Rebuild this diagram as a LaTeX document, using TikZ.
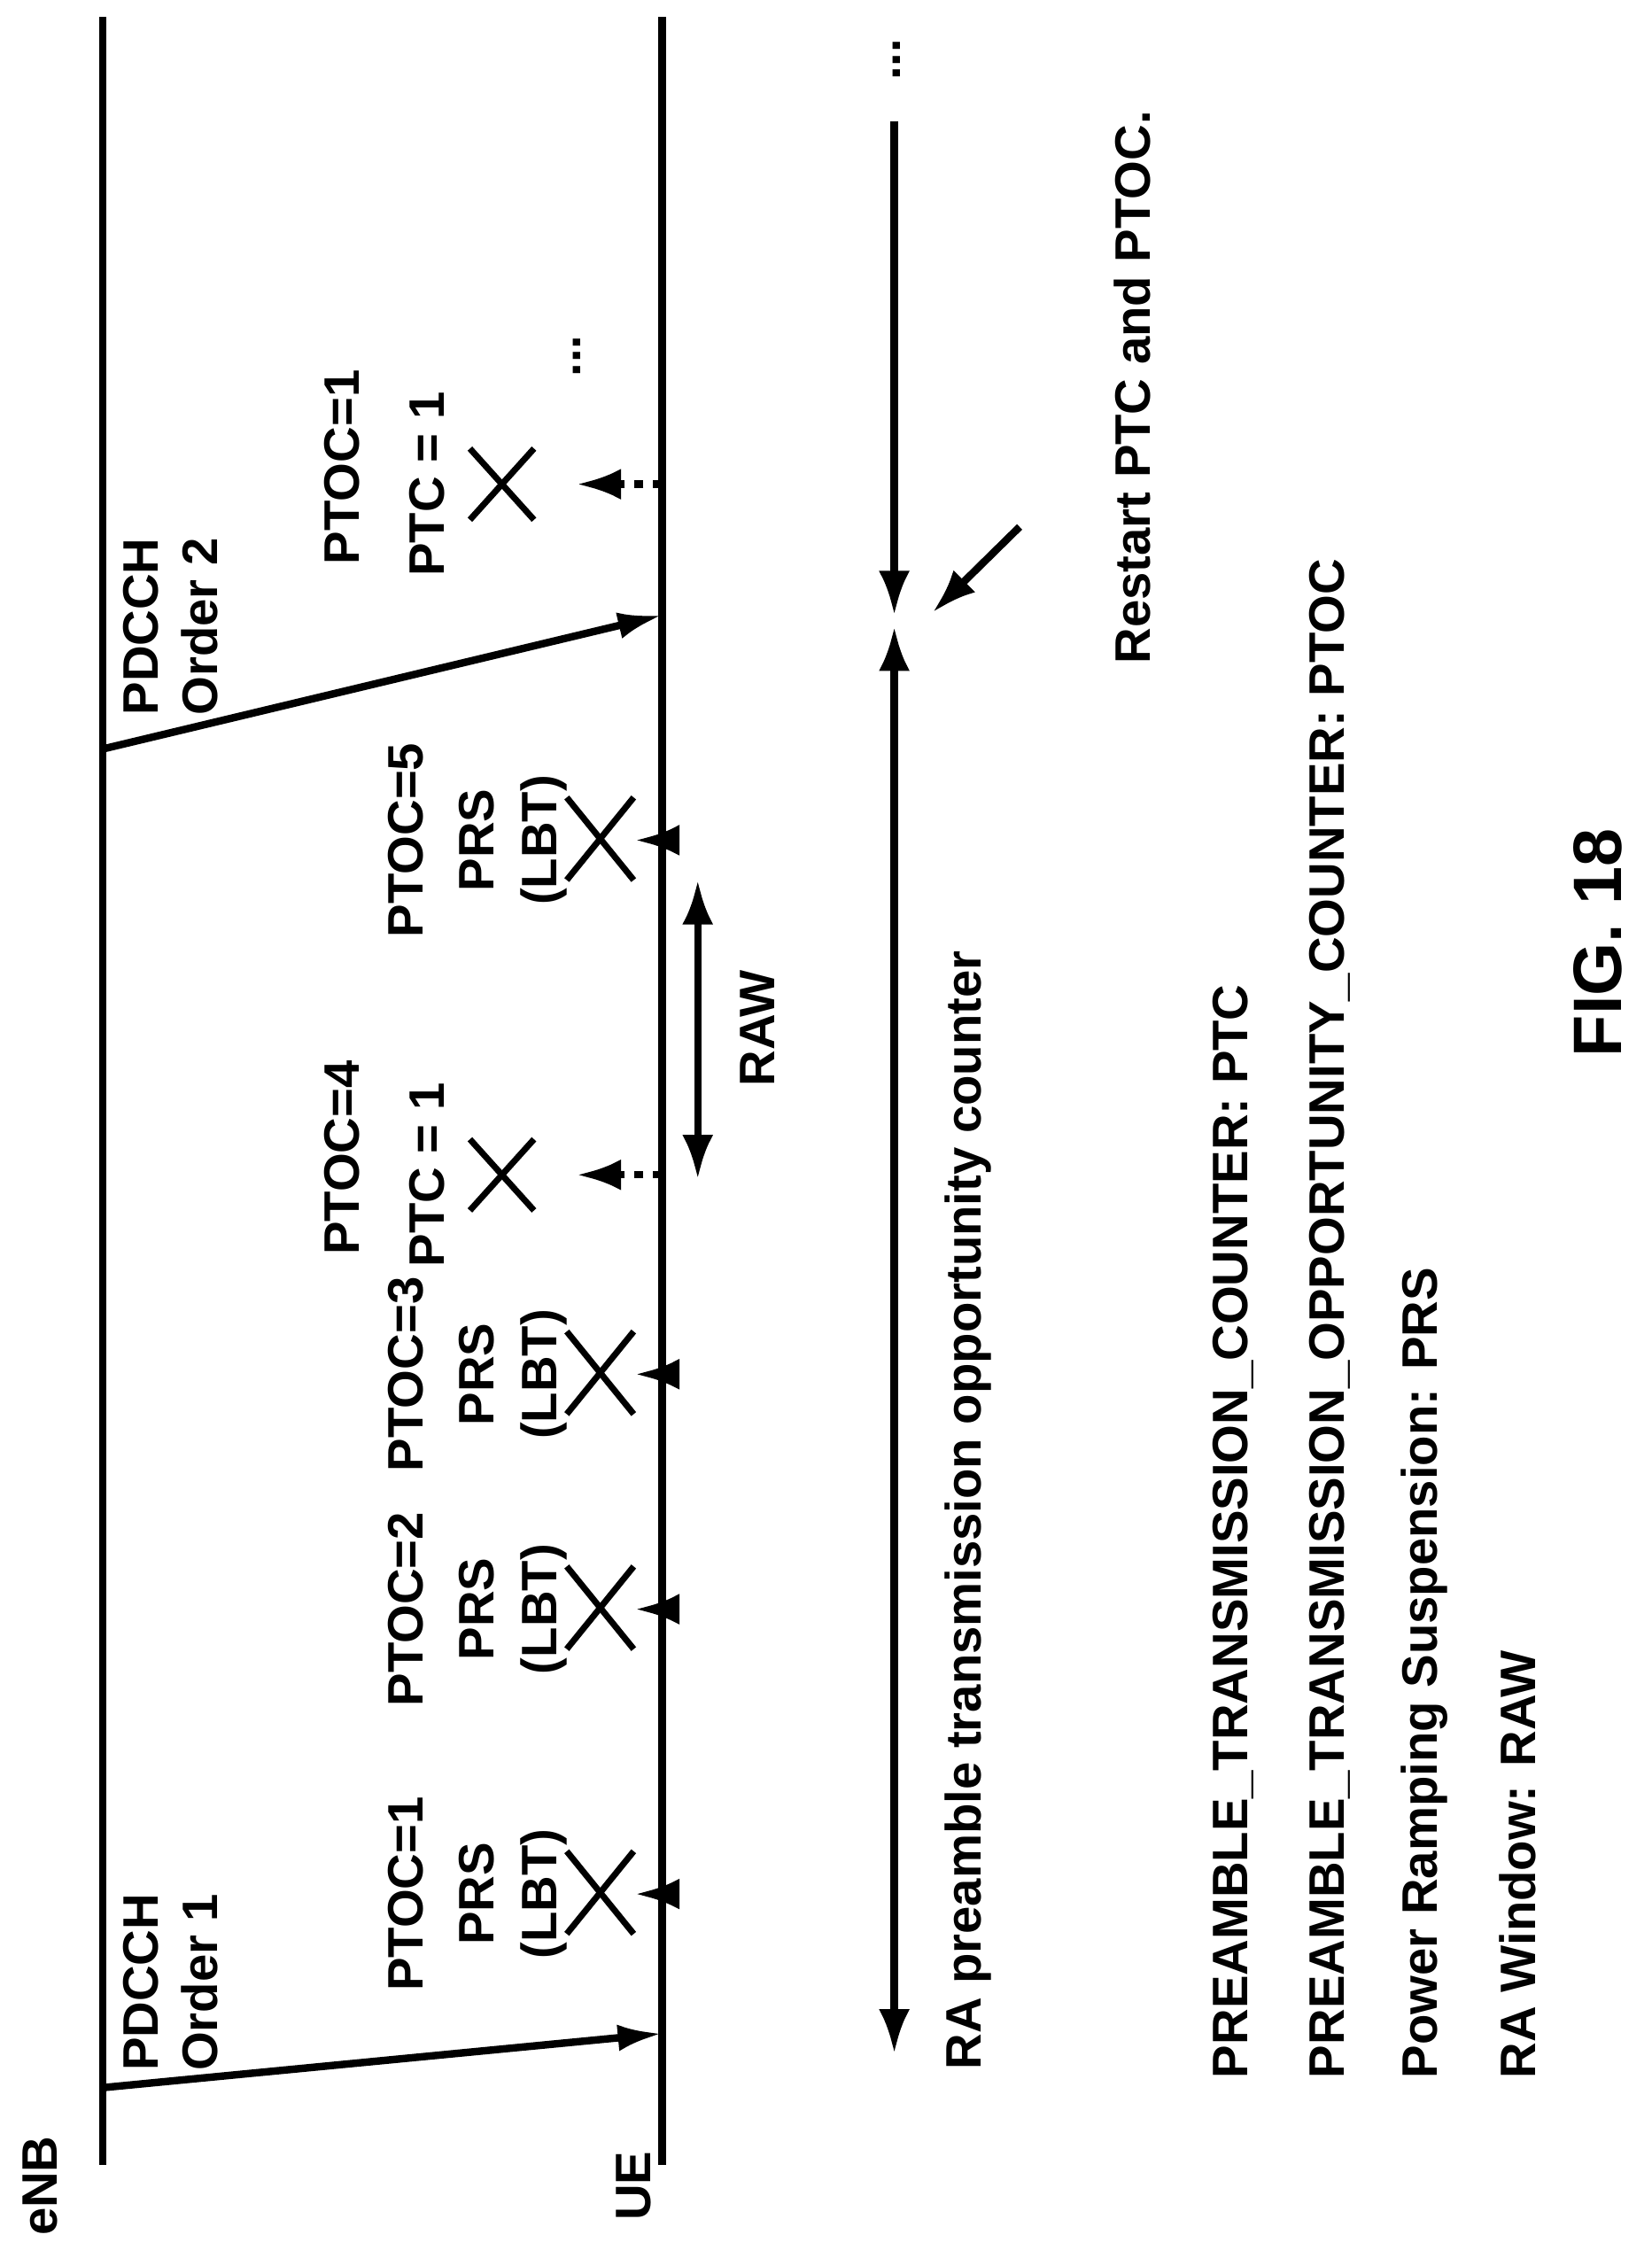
\documentclass[tikz,border=0pt]{standalone}
\usepackage{fontspec}
\setmainfont{Liberation Sans}
\usetikzlibrary{arrows.meta}
\begin{document}
\begin{tikzpicture}
	[x=0.01607cm,y=-0.01607cm,
	lbl/.style={rotate=90,font=\fontsize{16}{19}\bfseries\selectfont,inner sep=1pt},
	life/.style={line width=2.4pt},
	msg/.style={line width=2.4pt,-{Latex[length=5mm,width=3mm]}},
	tip/.style={-{Latex[length=5mm,width=3.5mm]},line width=2.4pt},
	dbl/.style={{Latex[length=5mm,width=3.5mm]}-{Latex[length=5mm,width=3.5mm]},line width=2.4pt},
	cross/.style={line width=2pt}
	]
	\useasboundingbox (0,0) rectangle (1160,1580);
	% life lines
	\coordinate (enbtop) at (72,12);
	\coordinate (enbbot) at (72,1520);
	\coordinate (uetop) at (465,12);
	\coordinate (uebot) at (465,1520);
	\draw[life] (enbtop) -- (enbbot);
	\draw[life] (uetop) -- (uebot);
	\node[lbl] (enb) at (28,1535){eNB};
	\node[lbl] (ue) at (445,1535){UE};

	% PDCCH orders
	\coordinate (o1s) at (72,1466);
	\coordinate (o1e) at (465,1428);
	\coordinate (o2s) at (72,526);
	\coordinate (o2e) at (465,432);
	\draw[msg] (o1s) -- (o1e);
	\draw[msg] (o2s) -- (o2e);
	\node[lbl,align=left] (ord1) at (120,1392){PDCCH\\Order 1};
	\node[lbl,align=left] (ord2) at (120,440){PDCCH\\Order 2};

	% suspended attempts
	\foreach \y/\k in {1330/1,1130/2,965/3,590/5}{
		\coordinate (a\k) at (465,\y);
		\coordinate (b\k) at (446,\y);
		\draw[tip] (a\k) -- (b\k);
		\draw[cross] (398,\y-30) -- (445,\y+28);
		\draw[cross] (398,\y+28) -- (445,\y-30);
		\node[lbl] (ptoc\k) at (285,\y){PTOC=\k};
		\node[lbl] (prs\k) at (335,\y){PRS};
		\node[lbl] (lbt\k) at (382,\y){(LBT)};
	}
	% failed attempts
	\foreach \y/\k in {825/4,340/1}{
		\coordinate (c\k) at (465,\y);
		\coordinate (d\k) at (405,\y);
		\draw[tip,dashed] (c\k) -- (d\k);
		\draw[cross] (330,\y-25) -- (375,\y+25);
		\draw[cross] (330,\y+25) -- (375,\y-25);
		\node[lbl] (ptocf\k) at (240,\y-12){PTOC=\k};
		\node[lbl] (ptc\k) at (300,\y){PTC = 1};
	}
	\node[lbl] (dots1) at (405,250){...};
	\node[lbl] (dots2) at (630,42){...};

	% RA window
	\coordinate (raw1) at (490,618);
	\coordinate (raw2) at (490,828);
	\draw[dbl] (raw1) -- (raw2);
	\node[lbl] (raw) at (532,722){RAW};

	% counter
	\coordinate (ctop) at (628,85);
	\coordinate (cmid1) at (628,432);
	\coordinate (cmid2) at (628,440);
	\coordinate (cbot) at (628,1442);
	\draw[tip] (ctop) -- (cmid1);
	\draw[dbl] (cmid2) -- (cbot);
	\coordinate (rs1) at (716,370);
	\coordinate (rs2) at (655,430);
	\draw[tip] (rs1) -- (rs2);
	\node[lbl] (restart) at (795,272){Restart PTC and PTOC.};
	\node[lbl,anchor=west] (cnt) at (680,1456){RA preamble transmission opportunity counter};

	% legend
	\node[lbl,anchor=west] (l1) at (866,1462){PREAMBLE\_TRANSMISSION\_COUNTER: PTC};
	\node[lbl,anchor=west] (l2) at (934,1462){PREAMBLE\_TRANSMISSION\_OPPORTUNITY\_COUNTER: PTOC};
	\node[lbl,anchor=west] (l3) at (1000,1462){Power Ramping Suspension: PRS};
	\node[lbl,anchor=west] (l4) at (1066,1462){RA Window: RAW};
	\node[lbl,font=\fontsize{22}{26}\bfseries\selectfont] (fig) at (1122,662){FIG. 18};
\end{tikzpicture}
\end{document}
